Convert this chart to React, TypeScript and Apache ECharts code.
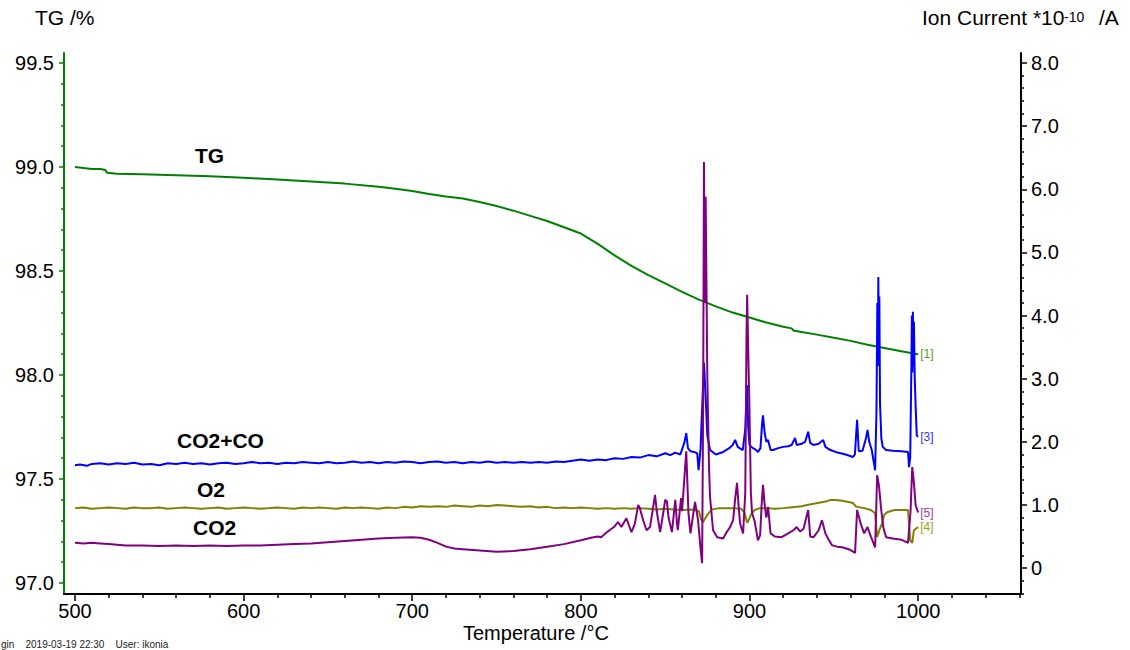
import React, { useEffect, useRef } from "react";
import * as echarts from "echarts";

const FONT = "'Liberation Sans', Arial, Helvetica, sans-serif";

// X axis (Temperature /°C)
const xMajorTicks = [500, 600, 700, 800, 900, 1000];
// Left axis (TG /%)
const tgMajorTicks = [97.0, 97.5, 98.0, 98.5, 99.0, 99.5];
// Right axis (Ion Current *10^-10 /A)
const icMajorTicks = [0, 1, 2, 3, 4, 5, 6, 7, 8];

// TG /% vs temperature
const tgData: [number, number][] = [
  [500, 99.0], [505, 98.995], [510, 98.99], [515, 98.99], [518, 98.985], [519, 98.972],
  [525, 98.968], [540, 98.965], [560, 98.96], [580, 98.955], [600, 98.948], [620, 98.94],
  [640, 98.93], [660, 98.92], [680, 98.905], [690, 98.895], [700, 98.885], [710, 98.87],
  [720, 98.858], [730, 98.848], [740, 98.832], [750, 98.812], [760, 98.79], [770, 98.765],
  [780, 98.74], [790, 98.71], [800, 98.68], [810, 98.63], [820, 98.575], [830, 98.525],
  [840, 98.48], [850, 98.44], [860, 98.4], [870, 98.362], [880, 98.33], [890, 98.3],
  [900, 98.276], [910, 98.252], [920, 98.232], [925, 98.224], [926, 98.214], [930, 98.208],
  [940, 98.194], [950, 98.179], [960, 98.164], [970, 98.145], [980, 98.13], [990, 98.114],
  [1000, 98.1],
];

// CO2+CO ion current [3]
const co2coData: [number, number][] = [
  [500, 1.63], [503, 1.64], [507, 1.62], [510, 1.65], [515, 1.66], [520, 1.64], [525, 1.66],
  [530, 1.65], [535, 1.67], [540, 1.64], [545, 1.65], [550, 1.63], [555, 1.66], [560, 1.65],
  [565, 1.67], [570, 1.65], [575, 1.66], [580, 1.64], [585, 1.66], [590, 1.67], [595, 1.65],
  [600, 1.66], [605, 1.68], [610, 1.66], [615, 1.67], [620, 1.65], [625, 1.67], [630, 1.66],
  [635, 1.68], [640, 1.67], [645, 1.66], [650, 1.68], [655, 1.66], [660, 1.67], [665, 1.69],
  [670, 1.67], [675, 1.68], [680, 1.66], [685, 1.68], [690, 1.67], [695, 1.69], [700, 1.68],
  [705, 1.66], [710, 1.68], [715, 1.69], [720, 1.67], [725, 1.68], [730, 1.66], [735, 1.68],
  [740, 1.67], [745, 1.69], [750, 1.67], [755, 1.68], [760, 1.67], [765, 1.68], [770, 1.67],
  [775, 1.68], [780, 1.67], [785, 1.69], [790, 1.68], [795, 1.7], [800, 1.72], [805, 1.7],
  [810, 1.72], [815, 1.71], [820, 1.74], [825, 1.73], [830, 1.76], [835, 1.75], [840, 1.79],
  [845, 1.77], [850, 1.82], [853, 1.79], [856, 1.83], [859, 1.8], [861.5, 2.0], [862.5, 2.14],
  [863.5, 1.9], [865, 1.85], [867, 1.84], [869, 1.82], [869.8, 1.55], [871, 1.9], [872, 2.6],
  [873, 3.25], [874, 2.7], [875, 2.1], [876.6, 1.87], [880, 1.8], [884.4, 1.84], [888, 1.9],
  [890, 1.95], [891.5, 2.03], [893, 1.92], [896, 1.87], [897.5, 2.2], [898.5, 2.9], [899.3, 2.2],
  [900, 1.95], [902, 1.9], [903.5, 1.88], [905, 1.84], [906.5, 1.9], [907.5, 2.3], [908, 2.42],
  [909, 2.14], [910, 2.0], [911, 2.03], [912.5, 1.87], [914, 1.87], [917, 1.9], [920, 1.92],
  [923, 1.93], [925, 1.95], [927, 2.06], [928, 1.95], [931, 1.97], [933, 2.0], [934.8, 2.16],
  [936, 1.98], [938, 1.95], [941, 1.97], [943.7, 2.03], [945, 1.92], [948, 1.87], [951, 1.84],
  [954, 1.82], [957, 1.8], [961.4, 1.76], [962.5, 1.8], [963.8, 2.35], [964.8, 1.85], [967, 1.86],
  [969, 2.05], [970, 2.19], [971, 2.0], [972.5, 1.87], [974.5, 1.55], [975.3, 2.5], [975.8, 4.2],
  [976.1, 3.2], [976.4, 4.61], [976.7, 3.3], [977, 4.3], [977.4, 2.6], [978.2, 2.05], [979, 1.92],
  [981, 1.87], [985, 1.86], [990, 1.85], [994, 1.84], [994.6, 1.6], [995.3, 1.75], [996, 3.2],
  [996.3, 4.0], [996.6, 3.1], [996.9, 4.06], [997.2, 3.2], [997.5, 3.9], [998, 3.0], [998.6, 2.5],
  [999.2, 2.1], [1000, 2.08],
];

// O2 ion current [4]
const o2Data: [number, number][] = [
  [500, 0.95], [505, 0.96], [510, 0.94], [515, 0.95], [520, 0.96], [525, 0.95], [530, 0.94],
  [535, 0.96], [540, 0.95], [545, 0.95], [550, 0.96], [555, 0.94], [560, 0.95], [565, 0.96],
  [570, 0.95], [575, 0.94], [580, 0.95], [585, 0.96], [590, 0.94], [595, 0.95], [600, 0.96],
  [605, 0.95], [610, 0.94], [615, 0.95], [620, 0.96], [625, 0.95], [630, 0.94], [635, 0.96],
  [640, 0.95], [645, 0.96], [650, 0.95], [655, 0.94], [660, 0.96], [665, 0.95], [670, 0.96],
  [675, 0.95], [680, 0.94], [685, 0.96], [690, 0.95], [695, 0.97], [700, 0.96], [705, 0.98],
  [710, 0.97], [715, 0.98], [720, 0.97], [725, 0.99], [730, 0.98], [735, 0.97], [740, 0.99],
  [745, 0.98], [750, 1.0], [755, 0.99], [760, 0.98], [765, 0.97], [770, 0.98], [775, 0.96],
  [780, 0.97], [785, 0.95], [790, 0.96], [795, 0.95], [800, 0.96], [805, 0.95], [810, 0.94],
  [815, 0.95], [820, 0.94], [825, 0.95], [830, 0.94], [835, 0.95], [840, 0.94], [845, 0.93],
  [850, 0.94], [855, 0.93], [860, 0.92], [865, 0.93], [868, 0.92], [870, 0.9], [871.5, 0.76],
  [872.5, 0.73], [874, 0.8], [876, 0.88], [878, 0.93], [882, 0.95], [890, 0.95], [895, 0.94],
  [897, 0.88], [898.6, 0.72], [899.5, 0.76], [901, 0.85], [903, 0.92], [906, 0.95], [910, 0.95],
  [915, 0.94], [920, 0.95], [924, 0.96], [928, 0.97], [931, 0.98], [934, 1.0], [938, 1.02],
  [942, 1.04], [946, 1.06], [948, 1.08], [951, 1.08], [954, 1.07], [958, 1.05], [961.4, 1.03],
  [963, 0.98], [964, 0.97], [968, 0.95], [972, 0.92], [974.5, 0.87], [975.7, 0.49], [977, 0.6],
  [978.6, 0.71], [980, 0.85], [982, 0.89], [986, 0.92], [990, 0.92], [994, 0.92], [995.3, 0.44],
  [996.5, 0.4], [997.5, 0.6], [1000, 0.65],
];

// CO2 ion current [5]
const co2Data: [number, number][] = [
  [500, 0.4], [505, 0.39], [510, 0.4], [515, 0.39], [520, 0.38], [525, 0.37], [530, 0.36],
  [540, 0.36], [550, 0.35], [560, 0.36], [570, 0.35], [580, 0.36], [590, 0.35], [600, 0.36],
  [610, 0.36], [620, 0.37], [630, 0.38], [640, 0.39], [650, 0.41], [660, 0.43], [670, 0.45],
  [680, 0.47], [690, 0.48], [700, 0.49], [705, 0.48], [710, 0.45], [715, 0.4], [720, 0.34],
  [725, 0.31], [730, 0.3], [740, 0.28], [750, 0.26], [760, 0.27], [770, 0.3], [780, 0.34],
  [790, 0.38], [800, 0.44], [806, 0.48], [810, 0.5], [812, 0.49], [815, 0.56], [817, 0.6],
  [820, 0.66], [822, 0.73], [824, 0.65], [827, 0.79], [830, 0.57], [832, 0.7], [834, 1.0],
  [835, 0.95], [837, 0.75], [839, 0.6], [841, 0.65], [844, 1.16], [845, 0.9], [847, 0.57],
  [849, 0.9], [850, 1.08], [851, 1.06], [852, 0.8], [854, 0.57], [856, 1.08], [857, 0.7],
  [857.5, 0.6], [859.4, 1.11], [860, 0.9], [862.5, 1.85], [863.8, 0.87], [865, 0.55],
  [867.7, 1.05], [869.5, 0.76], [871, 0.3], [871.9, 0.08], [872.5, 2.5], [873, 6.43],
  [873.5, 4.2], [874, 5.88], [875, 3.0], [876, 1.6], [876.6, 1.13], [878.4, 0.6], [880.8, 0.49],
  [884.4, 0.47], [886, 0.55], [888.5, 0.65], [890.3, 0.76], [891.5, 1.1], [892.6, 1.35],
  [893.5, 1.0], [894.4, 0.71], [896.2, 0.55], [897.5, 1.2], [898.2, 3.6], [898.6, 4.33],
  [899.2, 3.5], [900, 2.5], [900.8, 1.2], [901.5, 0.87], [903, 0.75], [905, 0.44], [906.3, 0.52],
  [907.2, 1.0], [908, 1.32], [909, 1.0], [910, 0.8], [911, 0.97], [912.5, 0.55], [915, 0.5],
  [919, 0.49], [923, 0.55], [926, 0.6], [928, 0.65], [930, 0.58], [932, 0.62], [934.8, 0.92],
  [936, 0.5], [938, 0.49], [941, 0.6], [943, 0.76], [945, 0.55], [947, 0.45], [949, 0.36],
  [952, 0.34], [955, 0.33], [959.7, 0.29], [962.6, 0.24], [963.8, 0.92], [966, 0.7], [968, 0.55],
  [970, 0.65], [972, 0.5], [974.5, 0.33], [975.7, 1.47], [976.8, 1.3], [978, 0.95], [979.3, 0.65],
  [981, 0.49], [985, 0.47], [990, 0.45], [994, 0.4], [995.5, 0.9], [996.5, 1.6], [997.5, 1.35],
  [998.5, 1.0], [1000, 0.88],
];

const X_MIN = 493.5;
const X_MAX = 1061;
const TG_MIN = 96.947;
const TG_MAX = 99.548;
const IC_MIN = -0.41;
const IC_MAX = 8.158;

function steps(from: number, to: number, step: number, skipEvery: number): number[] {
  const out: number[] = [];
  const n = Math.round((to - from) / step);
  for (let i = 0; i <= n; i++) {
    const v = Math.round((from + i * step) * 1000) / 1000;
    if (skipEvery > 0 && Math.abs(v / skipEvery - Math.round(v / skipEvery)) < 1e-6) continue;
    out.push(v);
  }
  return out;
}

export default function App() {
  const ref = useRef<HTMLDivElement>(null);

  useEffect(() => {
    if (!ref.current) return;
    const chart = echarts.init(ref.current, null, { renderer: "svg" });

    const labelStyle = { color: "#000", fontSize: 20, fontFamily: FONT };

    const option: any = {
      animation: false,
      backgroundColor: "#fff",
      grid: { left: 64, right: 109, top: 53, bottom: 56, outerBoundsMode: "none" },
      xAxis: [
        {
          type: "value",
          min: X_MIN,
          max: X_MAX,
          position: "bottom",
          axisLine: { show: true, onZero: false, lineStyle: { color: "#000", width: 2 } },
          axisTick: { show: true, customValues: xMajorTicks, length: 7, lineStyle: { color: "#000", width: 1.5 } },
          axisLabel: { ...labelStyle, customValues: xMajorTicks, margin: 7, formatter: (v: number) => String(v) },
          splitLine: { show: false },
        },
        {
          type: "value",
          min: X_MIN,
          max: X_MAX,
          position: "bottom",
          axisLine: { show: false, onZero: false },
          axisTick: { show: true, customValues: steps(500, 1060, 20, 100), length: 4, lineStyle: { color: "#000", width: 1.5 } },
          axisLabel: { show: false },
          splitLine: { show: false },
        },
      ],
      yAxis: [
        {
          type: "value",
          min: TG_MIN,
          max: TG_MAX,
          position: "left",
          axisLine: { show: true, onZero: false, lineStyle: { color: "#008000", width: 2 } },
          axisTick: { show: true, customValues: tgMajorTicks, length: 5, lineStyle: { color: "#008000", width: 1.5 } },
          axisLabel: { ...labelStyle, customValues: tgMajorTicks, margin: 10, formatter: (v: number) => v.toFixed(1) },
          splitLine: { show: false },
        },
        {
          type: "value",
          min: IC_MIN,
          max: IC_MAX,
          position: "right",
          axisLine: { show: true, onZero: false, lineStyle: { color: "#000", width: 2 } },
          axisTick: { show: true, customValues: icMajorTicks, length: 6, lineStyle: { color: "#000", width: 1.5 } },
          axisLabel: {
            ...labelStyle,
            customValues: icMajorTicks,
            margin: 10,
            formatter: (v: number) => (v === 0 ? "0" : v.toFixed(1)),
          },
          splitLine: { show: false },
        },
        {
          type: "value",
          min: TG_MIN,
          max: TG_MAX,
          position: "left",
          axisLine: { show: false, onZero: false },
          axisTick: { show: true, customValues: steps(97.0, 99.5, 0.1, 0.5), length: 3, lineStyle: { color: "#008000", width: 1.5 } },
          axisLabel: { show: false },
          splitLine: { show: false },
        },
        {
          type: "value",
          min: IC_MIN,
          max: IC_MAX,
          position: "right",
          axisLine: { show: false, onZero: false },
          axisTick: { show: true, customValues: steps(-0.4, 8.0, 0.2, 1), length: 3, lineStyle: { color: "#000", width: 1.5 } },
          axisLabel: { show: false },
          splitLine: { show: false },
        },
      ],
      series: [
        {
          name: "TG",
          type: "line",
          xAxisIndex: 0,
          yAxisIndex: 0,
          data: tgData,
          showSymbol: false,
          lineStyle: { color: "#008000", width: 2 },
          endLabel: { show: true, formatter: "[1]", color: "#5a9a1a", fontSize: 12, fontFamily: FONT, distance: 2 },
        },
        {
          name: "O2",
          type: "line",
          xAxisIndex: 0,
          yAxisIndex: 1,
          data: o2Data,
          showSymbol: false,
          lineStyle: { color: "#808000", width: 2 },
          endLabel: { show: true, formatter: "[4]", color: "#a0a020", fontSize: 12, fontFamily: FONT, distance: 2 },
        },
        {
          name: "CO2+CO",
          type: "line",
          xAxisIndex: 0,
          yAxisIndex: 1,
          data: co2coData,
          showSymbol: false,
          lineStyle: { color: "#0000ff", width: 2 },
          endLabel: { show: true, formatter: "[3]", color: "#3333ff", fontSize: 12, fontFamily: FONT, distance: 2 },
        },
        {
          name: "CO2",
          type: "line",
          xAxisIndex: 0,
          yAxisIndex: 1,
          data: co2Data,
          showSymbol: false,
          lineStyle: { color: "#800080", width: 2 },
          endLabel: { show: true, formatter: "[5]", color: "#a040a0", fontSize: 12, fontFamily: FONT, distance: 2 },
        },
      ],
      graphic: [
        { type: "text", left: 35, top: 7, style: { text: "TG /%", font: `21px ${FONT}`, fill: "#000" } },
        { type: "text", left: 922, top: 7, style: { text: "Ion Current *10", font: `21px ${FONT}`, fill: "#000" } },
        { type: "text", left: 1064, top: 10, style: { text: "-10", font: `14px ${FONT}`, fill: "#000" } },
        { type: "text", left: 1099, top: 7, style: { text: "/A", font: `21px ${FONT}`, fill: "#000" } },
        { type: "text", left: 463, top: 623, style: { text: "Temperature /°C", font: `20px ${FONT}`, fill: "#000" } },
        { type: "text", left: 195, top: 145, style: { text: "TG", font: `bold 21px ${FONT}`, fill: "#000" } },
        { type: "text", left: 177, top: 430, style: { text: "CO2+CO", font: `bold 21px ${FONT}`, fill: "#000" } },
        { type: "text", left: 197, top: 479, style: { text: "O2", font: `bold 21px ${FONT}`, fill: "#000" } },
        { type: "text", left: 193, top: 517, style: { text: "CO2", font: `bold 21px ${FONT}`, fill: "#000" } },
        { type: "text", left: 1, top: 639, style: { text: "gin    2019-03-19 22:30    User: ikonia", font: `10px ${FONT}`, fill: "#222" } },
      ],
    };

    chart.setOption(option);
    return () => chart.dispose();
  }, []);

  return (
    <div
      ref={ref}
      style={{ position: "fixed", left: 0, top: 0, width: 1130, height: 650, background: "#fff" }}
    />
  );
}
